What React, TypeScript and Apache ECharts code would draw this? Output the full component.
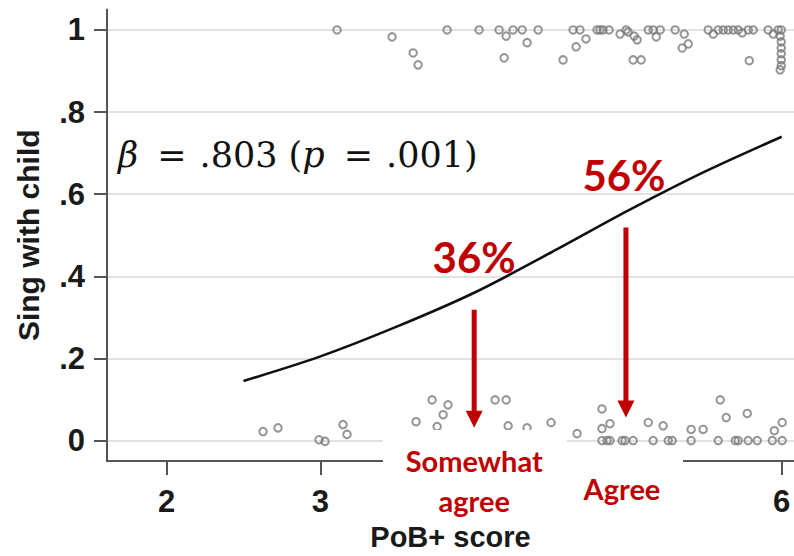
import React, { useEffect, useRef } from "react";
import * as echarts from "echarts";

// Axis ticks
const xTicks = [2, 3, 4, 5, 6];
const xTickLabels = [2, 3, 6];
const yTicks = [0, 0.2, 0.4, 0.6, 0.8, 1];

// Fitted probability of singing with the child by PoB+ score
const fitScore = [2.5, 3, 3.5, 4, 4.5, 5, 5.5, 6];
const fitProb = [0.145, 0.205, 0.278, 0.36, 0.458, 0.56, 0.655, 0.74];

// Observed (jittered) responses: sings with child = 1
const singScore = [
  3.108, 3.466, 3.603, 3.635, 3.824, 4.032, 4.162, 4.208, 4.253, 4.312, 4.344, 4.416, 4.195,
  4.578, 4.663, 4.643, 4.688, 4.727, 4.799, 4.818, 4.838, 4.877, 4.949, 4.988, 5.001, 5.04,
  5.06, 5.034, 5.086, 5.132, 5.164, 5.184, 5.21, 5.307, 5.366, 5.353, 5.392, 5.522, 5.555,
  5.587, 5.62, 5.652, 5.685, 5.717, 5.743, 5.782, 5.815, 5.789, 5.912, 5.945, 5.977, 5.997,
  5.99, 5.997, 5.997, 5.997, 5.997, 5.997, 5.99,
];
const singValue = [
  1, 0.983, 0.944, 0.915, 1, 1, 1, 0.985, 1, 1, 0.969, 1, 0.932,
  0.927, 0.959, 1, 1, 0.978, 1, 1, 1, 1, 0.99, 1, 0.995, 0.985,
  0.976, 0.927, 0.927, 1, 1, 0.983, 1, 1, 0.99, 0.956, 0.966, 1, 0.99,
  1, 1, 1, 1, 1, 0.993, 1, 1, 0.925, 1, 0.99, 1, 1,
  0.985, 0.971, 0.956, 0.942, 0.927, 0.913, 0.903,
];

// Observed (jittered) responses: sings with child = 0
const noSingScore = [
  2.627, 2.724, 2.991, 3.03, 3.147, 3.173, 3.622, 3.726, 3.83, 3.798, 3.759, 4.136, 4.208,
  4.221, 4.344, 4.5, 4.669, 4.831, 4.883, 4.831, 4.831, 4.864, 4.883, 4.962, 4.981, 5.034,
  5.132, 5.164, 5.229, 5.262, 5.288, 5.411, 5.411, 5.489, 5.6, 5.639, 5.587, 5.698, 5.717,
  5.776, 5.782, 5.841, 5.939, 5.952, 6.003, 6.003,
];
const noSingValue = [
  0.022, 0.031, 0.002, -0.002, 0.039, 0.015, 0.046, 0.099, 0.087, 0.063, 0.034, 0.099, 0.099,
  0.036, 0.031, 0.044, 0.017, 0.077, 0.041, 0.029, 0, 0, 0, 0, 0, 0,
  0.044, 0, 0.036, 0, 0, 0.027, 0, 0.027, 0.099, 0.056, 0, 0, 0,
  0.066, 0, 0, 0, 0.024, 0.044, 0,
];

// Highlighted response levels
const markedScores = [4, 5];
const markedNames = ["Somewhat\nagree", "Agree"];
const arrowTips = [0.031, 0.056];

const RED = "#c00000";
const AXIS_FONT = "Liberation Sans, Arial, sans-serif";
const NOTE_FONT = "Lato, 'Open Sans', sans-serif";
const MATH_FONT = "'DejaVu Serif', serif";

export default function App() {
  const ref = useRef<HTMLDivElement>(null);

  useEffect(() => {
    if (!ref.current) return;
    const chart = echarts.init(ref.current, null, { renderer: "svg" });

    const circleStyle = {
      color: "rgba(0,0,0,0)",
      borderColor: "#7a7a7a",
      borderWidth: 2,
    };

    chart.setOption({
      animation: false,
      backgroundColor: "#ffffff",
      grid: { left: 107, right: 0, top: 9.4, bottom: 92.3 },
      xAxis: {
        type: "value",
        min: 1.612,
        max: 6.08,
        name: "PoB+ score",
        nameLocation: "middle",
        nameGap: 57,
        nameTextStyle: { fontFamily: AXIS_FONT, fontSize: 29, fontWeight: "bold", color: "#1a1a1a" },
        axisLine: { show: true, onZero: false, lineStyle: { color: "#555555", width: 2 } },
        axisTick: { show: true, length: 14, customValues: xTicks, lineStyle: { color: "#555555", width: 2 } },
        axisLabel: {
          customValues: xTickLabels,
          margin: 25,
          fontFamily: AXIS_FONT,
          fontSize: 31,
          fontWeight: "bold",
          color: "#1a1a1a",
        },
        splitLine: { show: false },
      },
      yAxis: {
        type: "value",
        min: -0.05,
        max: 1.05,
        name: "Sing with child",
        nameLocation: "middle",
        nameRotate: 90,
        nameGap: 64,
        nameTextStyle: { fontFamily: AXIS_FONT, fontSize: 30, fontWeight: "bold", color: "#1a1a1a" },
        axisLine: { show: true, onZero: false, lineStyle: { color: "#555555", width: 2 } },
        axisTick: { show: true, length: 13, customValues: yTicks, lineStyle: { color: "#555555", width: 2 } },
        axisLabel: {
          customValues: yTicks,
          margin: 22,
          fontFamily: AXIS_FONT,
          fontSize: 31,
          fontWeight: "bold",
          color: "#1a1a1a",
          formatter: (v: number) => {
            if (Math.abs(v) < 1e-9) return "0";
            if (Math.abs(v - 1) < 1e-9) return "1";
            return "." + Math.round(v * 10);
          },
        },
        splitLine: { show: true, lineStyle: { color: "#e2e2e2", width: 2 } },
      },
      series: [
        {
          type: "scatter",
          data: singScore.map((x, i) => [x, singValue[i]]),
          symbol: "circle",
          symbolSize: 7.5,
          itemStyle: circleStyle,
          clip: false,
          z: 3,
        },
        {
          type: "scatter",
          data: noSingScore.map((x, i) => [x, noSingValue[i]]),
          symbol: "circle",
          symbolSize: 7.5,
          itemStyle: circleStyle,
          clip: false,
          z: 3,
        },
        {
          type: "line",
          data: fitScore.map((x, i) => [x, fitProb[i]]),
          smooth: 0.3,
          showSymbol: false,
          lineStyle: { color: "#111111", width: 2.6 },
          z: 4,
        },
      ],
    });

    const toPx = (x: number, y: number) =>
      chart.convertToPixel({ xAxisIndex: 0, yAxisIndex: 0 }, [x, y]) as number[];

    const elements: any[] = [];

    // White panels that sit over the axis behind the response names
    const panels = [
      { left: 383, top: 430, width: 184, height: 93 },
      { left: 567, top: 452, width: 116, height: 70 },
    ];
    panels.forEach((p) =>
      elements.push({
        type: "rect",
        z: 50,
        shape: { x: p.left, y: p.top, width: p.width, height: p.height },
        style: { fill: "#ffffff" },
      })
    );

    const nameCenters = [480, 488];
    const textShift = [0, -4];
    markedScores.forEach((s, i) => {
      const prob = fitProb[fitScore.indexOf(s)];
      const [cx, cy] = toPx(s, prob);
      const tipY = toPx(s, arrowTips[i])[1];
      const headH = 17;
      const headW = 17;
      const ax = cx - (i === 1 ? 2 : 0);
      elements.push({
        type: "text",
        z: 60,
        x: cx + textShift[i],
        y: cy - 36,
        style: {
          text: `${Math.round(prob * 100)}%`,
          fontFamily: NOTE_FONT,
          fontWeight: "bold",
          fontSize: 42,
          fill: RED,
          align: "center",
          verticalAlign: "middle",
        },
      });
      elements.push({
        type: "line",
        z: 60,
        shape: { x1: ax, y1: cy + 17, x2: ax, y2: tipY - headH + 2 },
        style: { stroke: RED, lineWidth: 5 },
      });
      elements.push({
        type: "polygon",
        z: 60,
        shape: {
          points: [
            [ax - headW / 2, tipY - headH],
            [ax + headW / 2, tipY - headH],
            [ax, tipY],
          ],
        },
        style: { fill: RED },
      });
      elements.push({
        type: "text",
        z: 60,
        x: cx + textShift[i] * 1.5,
        y: nameCenters[i],
        style: {
          text: markedNames[i],
          fontFamily: NOTE_FONT,
          fontWeight: "bold",
          fontSize: 29,
          lineHeight: 40,
          fill: RED,
          align: "center",
          verticalAlign: "middle",
        },
      });
    });

    // Regression coefficient
    elements.push({
      type: "text",
      z: 60,
      x: 118,
      y: 155,
      style: {
        text: "{i|β}{eq|=}.803 ({i|p}{eq|=}.001)",
        fontFamily: MATH_FONT,
        fontSize: 35,
        fill: "#111111",
        verticalAlign: "middle",
        rich: {
          i: { fontStyle: "italic", fontFamily: MATH_FONT, fontSize: 35, fill: "#111111" },
          eq: { fontFamily: MATH_FONT, fontSize: 35, fill: "#111111", padding: [0, 13, 0, 19] },
        },
      },
    });

    chart.setOption({ graphic: { elements } });

    return () => chart.dispose();
  }, []);

  return (
    <div
      ref={ref}
      style={{ position: "fixed", left: 0, top: 0, width: 794, height: 556 }}
    />
  );
}
